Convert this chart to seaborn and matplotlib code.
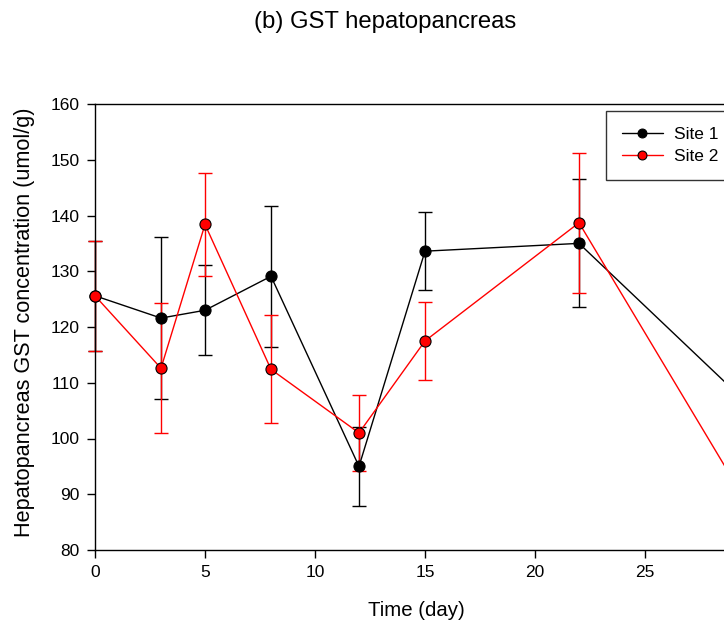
import numpy as np
import pandas as pd
import matplotlib
matplotlib.use('Agg')
import matplotlib.pyplot as plt
import seaborn as sns

# 数据
days = [0, 3, 5, 8, 12, 15, 22, 30]
site1_mean = [125.6, 121.6, 123.0, 129.1, 95.0, 133.6, 135.0, 105.0]
site1_err = [9.85, 14.6, 8.1, 12.6, 7.1, 7.0, 11.5, 6.0]
site2_mean = [125.6, 112.6, 138.4, 112.4, 101.0, 117.5, 138.7, 86.0]
site2_err = [9.85, 11.7, 9.2, 9.7, 6.85, 7.05, 12.6, 8.0]
sites = ['Site 1', 'Site 2']
colors = {'Site 1': 'black', 'Site 2': 'red'}

df = pd.DataFrame({
    'Time': days * 2,
    'GST': site1_mean + site2_mean,
    'err': site1_err + site2_err,
    'Site': [sites[0]] * len(days) + [sites[1]] * len(days),
})

sns.set_style('ticks')
plt.rcParams['font.family'] = ['Liberation Sans', 'DejaVu Sans']
plt.rcParams['text.color'] = 'black'

W, H = 724, 628
fig = plt.figure(figsize=(W / 100, H / 100), dpi=100)
# 坐标轴右边超出画面 (原图被裁剪)
ax = fig.add_axes([95 / W, 1 - 550 / H, (755 - 95) / W, (550 - 104) / H])

for site in sites:
    d = df[df['Site'] == site]
    ax.errorbar(d['Time'], d['GST'], yerr=d['err'], fmt='none',
                ecolor=colors[site], elinewidth=1.0, capsize=5, capthick=1.0,
                clip_on=False, zorder=2)

sns.lineplot(data=df, x='Time', y='GST', hue='Site', palette=colors,
             marker='o', markersize=8, markeredgecolor='black',
             markeredgewidth=0.8, linewidth=1.0, errorbar=None,
             ax=ax, clip_on=False, zorder=3)

ax.set_xlim(0, 30)
ax.set_ylim(80, 160)
ax.set_xticks([0, 5, 10, 15, 20, 25])
ax.set_yticks(np.arange(80, 161, 10))
ax.tick_params(direction='out', length=6, width=1, labelsize=12.5, colors='black', pad=5)
for s in ax.spines.values():
    s.set_linewidth(1.0)
    s.set_color('black')

ax.set_xlabel('')
ax.set_ylabel('')
fig.text(416 / W, 1 - 610 / H, 'Time (day)', ha='center', va='center', fontsize=14.7)
fig.text(25 / W, 1 - 322 / H, 'Hepatopancreas GST concentration (umol/g)',
         ha='center', va='center', rotation=90, fontsize=15.6)
fig.text(385 / W, 1 - 22 / H, '(b) GST hepatopancreas', ha='center', va='center', fontsize=17.2)

leg = ax.legend(loc='upper left', bbox_to_anchor=(606 / W, 1 - 111 / H),
                bbox_transform=fig.transFigure, borderaxespad=0,
                frameon=True, fancybox=False, fontsize=12.5, handlelength=2.4,
                handletextpad=0.6, borderpad=0.9, labelspacing=0.4,
                markerscale=0.8, title=None)
leg.get_frame().set_edgecolor('black')
leg.get_frame().set_linewidth(1.0)
for t in leg.get_texts():
    t.set_color('black')

fig.savefig('out.png', dpi=100)
